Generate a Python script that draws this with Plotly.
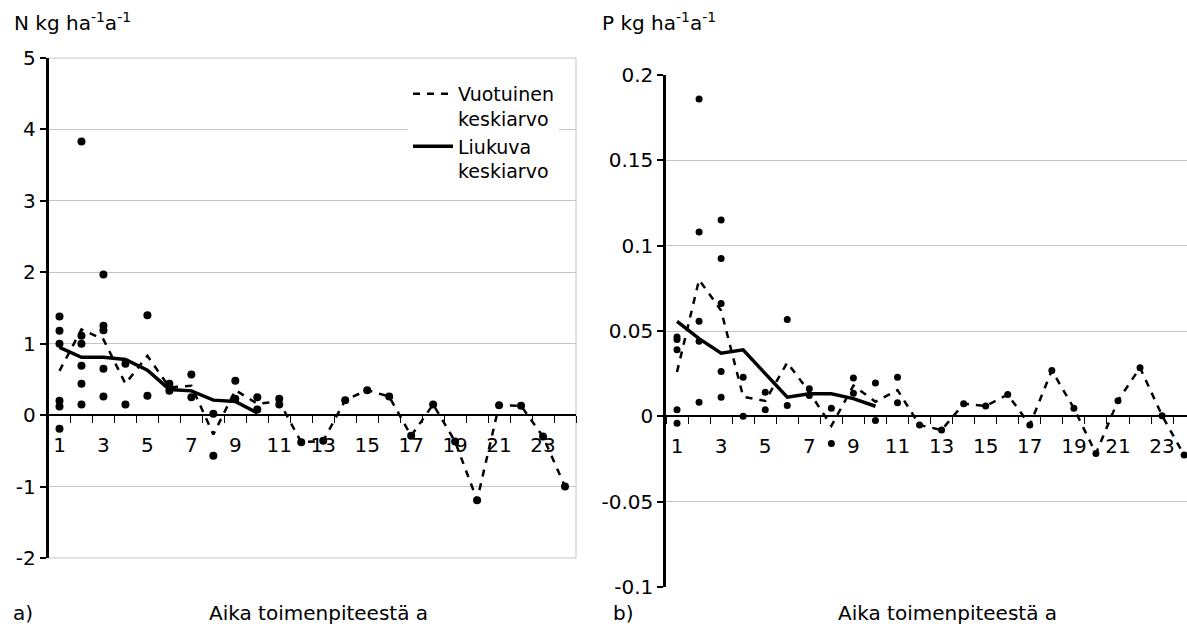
import plotly.graph_objects as go

# ---- data -------------------------------------------------------------
YEARS = list(range(1, 25))
X_TICKS = list(range(1, 24, 2))
X_TICK_TEXT = [str(v) for v in X_TICKS]

# a) nitrogen, kg/ha/a
N_POINT_X = ([1] * 6 + [2] * 6 + [3] * 5 + [4] * 2 + [5] * 2 + [6] * 2 + [7] * 2
             + [8] * 2 + [9] * 2 + [10] * 2 + [11] * 2 + list(range(12, 25)))
N_POINT_Y = [1.38, 1.18, 1.00, 0.20, 0.12, -0.19,
             3.83, 1.11, 1.00, 0.69, 0.44, 0.15,
             1.97, 1.25, 1.19, 0.65, 0.26,
             0.72, 0.15,
             1.40, 0.27,
             0.44, 0.34,
             0.57, 0.25,
             0.02, -0.57,
             0.48, 0.23,
             0.25, 0.08,
             0.23, 0.15,
             -0.38, -0.36, 0.21, 0.35, 0.26, -0.29, 0.15, -0.37, -1.19,
             0.14, 0.13, -0.30, -1.00]
N_ANNUAL = [0.62, 1.20, 1.06, 0.44, 0.83, 0.39, 0.41, -0.27, 0.35, 0.16, 0.19, -0.38,
            -0.36, 0.21, 0.35, 0.26, -0.29, 0.15, -0.37, -1.19, 0.14, 0.13, -0.30, -1.00]
N_MOVING_X = list(range(1, 11))
N_MOVING = [0.95, 0.81, 0.81, 0.78, 0.63, 0.36, 0.34, 0.21, 0.19, 0.03]
N_TICKS = [-2, -1, 0, 1, 2, 3, 4, 5]
N_TICK_TEXT = ["-2", "-1", "0", "1", "2", "3", "4", "5"]

# b) phosphorus, kg/ha/a
P_POINT_X = ([1] * 5 + [2] * 5 + [3] * 5 + [4] * 2 + [5] * 2 + [6] * 2 + [7] * 2
             + [8] * 2 + [9] * 2 + [10] * 2 + [11] * 2 + list(range(12, 25)))
P_POINT_Y = [0.0465, 0.045, 0.039, 0.0038, -0.0041,
             0.186, 0.108, 0.0557, 0.044, 0.0082,
             0.115, 0.0925, 0.0661, 0.0263, 0.0112,
             0.0229, 0.0,
             0.0141, 0.0038,
             0.0567, 0.0063,
             0.0161, 0.0122,
             0.0047, -0.0159,
             0.0224, 0.0135,
             0.0196, -0.0025,
             0.0229, 0.0079,
             -0.0051, -0.008, 0.0073, 0.0061, 0.0128, -0.0051, 0.0269, 0.0047, -0.0218,
             0.0092, 0.0285, 0.0004, -0.0227]
P_ANNUAL = [0.026, 0.080, 0.062, 0.0115, 0.009, 0.0315, 0.0142, -0.0056, 0.018, 0.0086,
            0.0154, -0.0051, -0.008, 0.0073, 0.0061, 0.0128, -0.0051, 0.0269, 0.0047,
            -0.0218, 0.0092, 0.0285, 0.0004, -0.0227]
P_MOVING_X = list(range(1, 11))
P_MOVING = [0.0557, 0.0455, 0.037, 0.039, 0.025, 0.0112, 0.0132, 0.0132, 0.0104, 0.0059]
P_TICKS = [-0.1, -0.05, 0, 0.05, 0.1, 0.15, 0.2]
P_TICK_TEXT = ["-0.1", "-0.05", "0", "0.05", "0.1", "0.15", "0.2"]

LEGEND_ANNUAL = "Vuotuinen<br>keskiarvo"
LEGEND_MOVING = "Liukuva<br>keskiarvo"
X_TITLE = "Aika toimenpiteestä a"

# ---- layout helpers ---------------------------------------------------
W, H = 1187, 633
FONT = "DejaVu Sans"
GRID = "#c4c4c4"


def px_x(p):
    return p / W


def px_y(p):
    return (H - p) / H


fig = go.Figure()

panels = [
    ("x", "y", N_POINT_X, N_POINT_Y, N_ANNUAL, N_MOVING_X, N_MOVING, True),
    ("x2", "y2", P_POINT_X, P_POINT_Y, P_ANNUAL, P_MOVING_X, P_MOVING, False),
]
for xa, ya, px_, py_, annual, mx, mv, show in panels:
    fig.add_trace(go.Scatter(
        x=YEARS, y=annual, mode="lines", name=LEGEND_ANNUAL, showlegend=show,
        line=dict(color="black", width=2.5, dash="7px,7px"),
        xaxis=xa, yaxis=ya, cliponaxis=False, hoverinfo="skip"))
    fig.add_trace(go.Scatter(
        x=mx, y=mv, mode="lines", name=LEGEND_MOVING, showlegend=show,
        line=dict(color="black", width=3.5),
        xaxis=xa, yaxis=ya, cliponaxis=False, hoverinfo="skip"))
    fig.add_trace(go.Scatter(
        x=px_, y=py_, mode="markers", showlegend=False,
        marker=dict(color="black", size=8 if show else 7),
        xaxis=xa, yaxis=ya, cliponaxis=False))

minor_vals = [v + 0.5 for v in range(0, 25)]

common_x = dict(
    anchor="free", automargin=False, showline=True, linecolor="black", linewidth=1.5,
    tickmode="array", tickvals=X_TICKS, ticktext=X_TICK_TEXT, ticks="",
    ticklabelstandoff=12, showgrid=False, zeroline=False,
    minor=dict(tickmode="array", tickvals=minor_vals, ticks="outside",
               ticklen=7, tickwidth=1.2, tickcolor="black", showgrid=False),
    tickfont=dict(family=FONT, size=20, color="black"),
)
common_y = dict(
    automargin=False, showline=True, linecolor="black", linewidth=2.5, ticks="outside",
    ticklen=6, tickwidth=2, tickcolor="black", showgrid=True, gridcolor=GRID,
    gridwidth=1, zeroline=False, tickmode="array",
    tickfont=dict(family=FONT, size=20, color="black"),
)

fig.update_layout(
    width=W, height=H, margin=dict(l=0, r=0, t=0, b=0, autoexpand=False),
    paper_bgcolor="white", plot_bgcolor="white",
    font=dict(family=FONT, size=20, color="black"),
    xaxis=dict(domain=[px_x(48.5), px_x(576)], range=[0.5, 24.5],
               position=px_y(415), **common_x),
    yaxis=dict(domain=[px_y(558), px_y(58)], range=[-2, 5], anchor="x",
               tickvals=N_TICKS, ticktext=N_TICK_TEXT, **common_y),
    xaxis2=dict(domain=[px_x(666), 1.0], range=[0.5, 24.13],
                position=px_y(416), **common_x),
    yaxis2=dict(domain=[px_y(587), px_y(75)], range=[-0.1, 0.2], anchor="x2",
                tickvals=P_TICKS, ticktext=P_TICK_TEXT, **common_y),
    legend=dict(x=px_x(408), y=px_y(75), xanchor="left", yanchor="top",
                bgcolor="white", borderwidth=0, valign="top",
                font=dict(family=FONT, size=19, color="black"),
                itemwidth=40, tracegroupgap=0),
    showlegend=True,
)

# plot-area border of panel a
fig.add_shape(type="rect", xref="x domain", yref="y domain", x0=0, x1=1, y0=0, y1=1,
              line=dict(color=GRID, width=1), layer="below")

annots = [
    dict(text="N kg ha<sup>-1</sup>a<sup>-1</sup>", x=px_x(12), y=px_y(22), xanchor="left"),
    dict(text="P kg ha<sup>-1</sup>a<sup>-1</sup>", x=px_x(600), y=px_y(22), xanchor="left"),
    dict(text="a)", x=px_x(11), y=px_y(613), xanchor="left"),
    dict(text="b)", x=px_x(611), y=px_y(613), xanchor="left"),
    dict(text=X_TITLE, x=px_x(318), y=px_y(613), xanchor="center"),
    dict(text=X_TITLE, x=px_x(947), y=px_y(613), xanchor="center"),
]
for a in annots:
    fig.add_annotation(xref="paper", yref="paper", yanchor="middle", showarrow=False,
                       font=dict(family=FONT, size=20, color="black"), **a)

fig.write_html("out.html")
